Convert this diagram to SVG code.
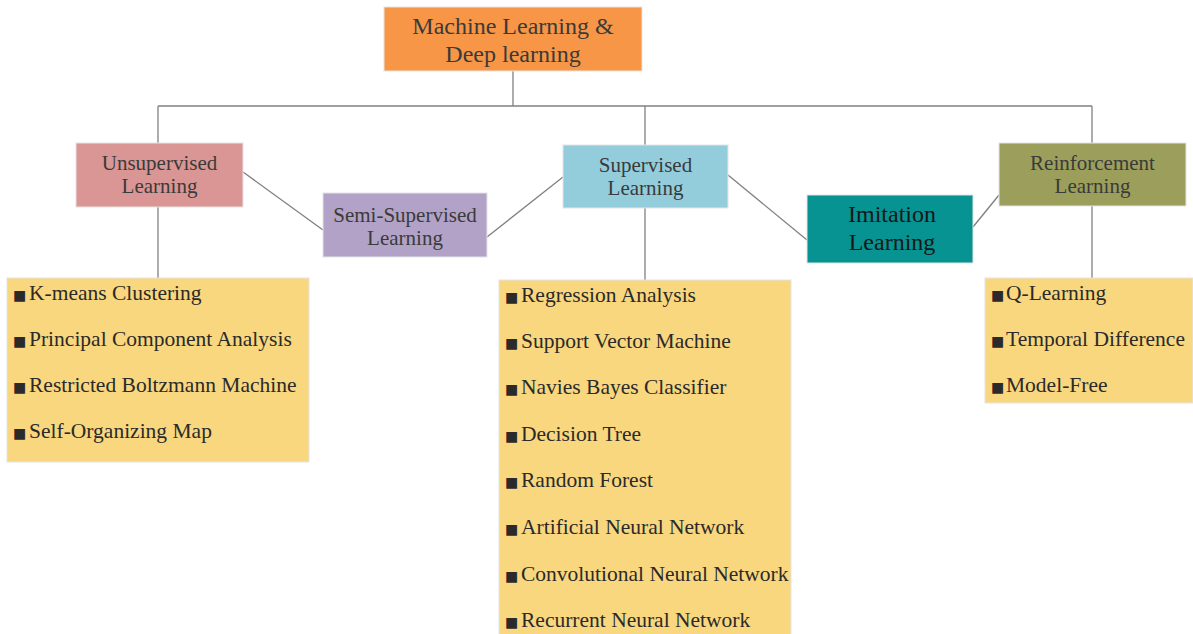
<svg xmlns="http://www.w3.org/2000/svg" width="1193" height="634" viewBox="0 0 1193 634">
  <style>
    .box { stroke: #e4e4e4; stroke-width: 1; }
    .lbl { font-family: "Liberation Serif", "Times New Roman", serif; font-size: 21px; fill: #3a3a3a; text-anchor: middle; }
    .big { font-size: 24px; }
    .dark { fill: #161616; }
    .item { font-family: "Liberation Serif", "Times New Roman", serif; font-size: 21.5px; fill: #2a2a2a; }
    .b { font-family: "DejaVu Sans", sans-serif; font-size: 14px; fill: #2a2a2a; }
    .list { fill: #F9D77E; }
    #connectors line { stroke: #808080; stroke-width: 1.3; fill: none; }
  </style>

  <!-- links between the categories -->
  <g id="connectors">
    <line x1="513" y1="71" x2="513" y2="106"/>
    <line x1="158" y1="106" x2="1092" y2="106"/>
    <line x1="158" y1="106" x2="158" y2="143"/>
    <line x1="645" y1="106" x2="645" y2="145"/>
    <line x1="1092" y1="106" x2="1092" y2="143"/>
    <line x1="158" y1="207" x2="158" y2="278"/>
    <line x1="645" y1="208" x2="645" y2="280"/>
    <line x1="1092" y1="206" x2="1092" y2="278"/>
    <line x1="243" y1="172" x2="323" y2="230"/>
    <line x1="487" y1="237" x2="563" y2="177"/>
    <line x1="728" y1="175" x2="807" y2="240"/>
    <line x1="973" y1="227" x2="999" y2="195"/>
  </g>

  <g id="root">
    <rect class="box" x="384" y="7" width="258" height="64" fill="#F79646"/>
    <text class="lbl big" x="513" y="34">Machine Learning &amp;</text>
    <text class="lbl big" x="513" y="62">Deep learning</text>
  </g>

  <g id="unsupervised">
    <rect class="box" x="76" y="143" width="167" height="64" fill="#D99694"/>
    <text class="lbl" x="159.5" y="170">Unsupervised</text>
    <text class="lbl" x="159.5" y="193">Learning</text>
  </g>

  <g id="semi-supervised">
    <rect class="box" x="323" y="193" width="164" height="64" fill="#B2A2C7"/>
    <text class="lbl" x="405" y="222">Semi-Supervised</text>
    <text class="lbl" x="405" y="245">Learning</text>
  </g>

  <g id="supervised">
    <rect class="box" x="563" y="145" width="165" height="63" fill="#93CDDC"/>
    <text class="lbl" x="645.5" y="172">Supervised</text>
    <text class="lbl" x="645.5" y="195">Learning</text>
  </g>

  <g id="imitation">
    <rect class="box" x="807" y="195" width="166" height="68" fill="#079392"/>
    <text class="lbl big dark" x="892" y="222">Imitation</text>
    <text class="lbl big dark" x="892" y="250">Learning</text>
  </g>

  <g id="reinforcement">
    <rect class="box" x="999" y="143" width="187" height="63" fill="#9B9F5B"/>
    <text class="lbl" x="1092.5" y="170">Reinforcement</text>
    <text class="lbl" x="1092.5" y="193">Learning</text>
  </g>

  <g id="unsupervised-methods">
    <rect class="box list" x="7" y="278" width="302" height="184"/>
    <text class="item" y="300"><tspan class="b" x="13">■</tspan><tspan x="29">K-means Clustering</tspan></text>
    <text class="item" y="346"><tspan class="b" x="13">■</tspan><tspan x="29">Principal Component Analysis</tspan></text>
    <text class="item" y="392"><tspan class="b" x="13">■</tspan><tspan x="29">Restricted Boltzmann Machine</tspan></text>
    <text class="item" y="438"><tspan class="b" x="13">■</tspan><tspan x="29">Self-Organizing Map</tspan></text>
  </g>

  <g id="supervised-methods">
    <rect class="box list" x="499" y="280" width="292" height="360"/>
    <text class="item" y="302"><tspan class="b" x="505">■</tspan><tspan x="521">Regression Analysis</tspan></text>
    <text class="item" y="348"><tspan class="b" x="505">■</tspan><tspan x="521">Support Vector Machine</tspan></text>
    <text class="item" y="394"><tspan class="b" x="505">■</tspan><tspan x="521">Navies Bayes Classifier</tspan></text>
    <text class="item" y="441"><tspan class="b" x="505">■</tspan><tspan x="521">Decision Tree</tspan></text>
    <text class="item" y="487"><tspan class="b" x="505">■</tspan><tspan x="521">Random Forest</tspan></text>
    <text class="item" y="534"><tspan class="b" x="505">■</tspan><tspan x="521">Artificial Neural Network</tspan></text>
    <text class="item" y="581"><tspan class="b" x="505">■</tspan><tspan x="521">Convolutional Neural Network</tspan></text>
    <text class="item" y="627"><tspan class="b" x="505">■</tspan><tspan x="521">Recurrent Neural Network</tspan></text>
  </g>

  <g id="reinforcement-methods">
    <rect class="box list" x="985" y="278" width="208" height="125"/>
    <text class="item" y="300"><tspan class="b" x="991">■</tspan><tspan x="1006">Q-Learning</tspan></text>
    <text class="item" y="346"><tspan class="b" x="991">■</tspan><tspan x="1006">Temporal Difference</tspan></text>
    <text class="item" y="392"><tspan class="b" x="991">■</tspan><tspan x="1006">Model-Free</tspan></text>
  </g>
</svg>
